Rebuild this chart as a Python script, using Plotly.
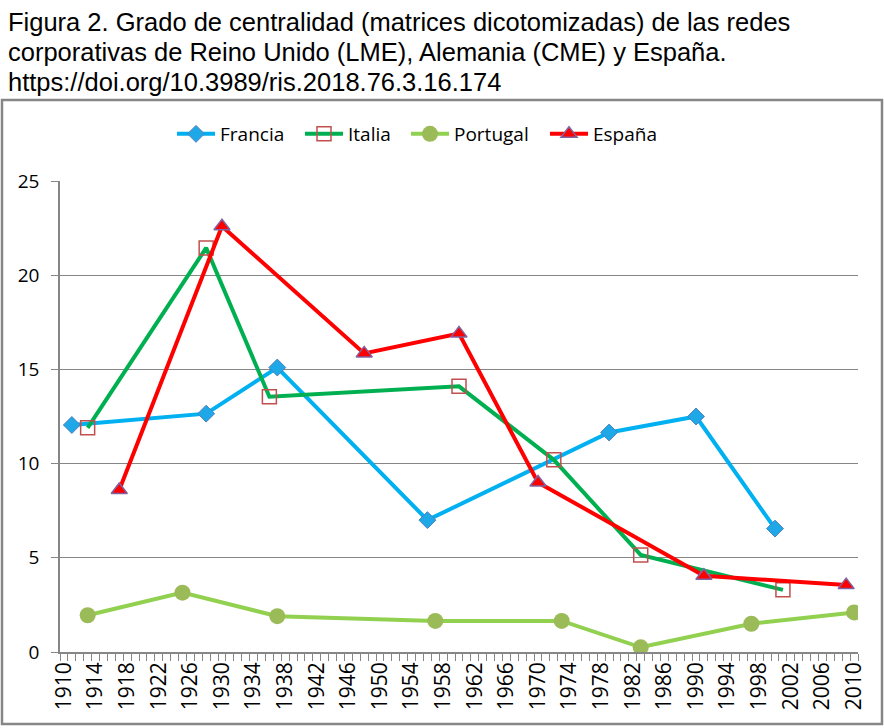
import plotly.graph_objects as go

# values
francia_years = [1911, 1928, 1937, 1956, 1979, 1990, 2000]
francia_vals = [12.05, 12.65, 15.1, 7.0, 11.65, 12.5, 6.55]

italia_years = [1913, 1928, 1936, 1960, 1972, 1983, 2001]
italia_vals = [11.9, 21.45, 13.55, 14.1, 10.2, 5.15, 3.3]

portugal_years = [1913, 1925, 1937, 1957, 1973, 1983, 1997, 2010]
portugal_vals = [1.95, 3.15, 1.9, 1.65, 1.65, 0.25, 1.5, 2.1]

espana_years = [1917, 1930, 1948, 1960, 1970, 1991, 2009]
espana_vals = [8.6, 22.6, 15.85, 16.9, 9.0, 4.05, 3.55]

x_ticks = list(range(1910, 2011, 4))
y_ticks = [0, 5, 10, 15, 20, 25]

title_lines = [
    "Figura 2. Grado de centralidad (matrices dicotomizadas) de las redes",
    "corporativas de Reino Unido (LME), Alemania (CME) y España.",
    "https://doi.org/10.3989/ris.2018.76.3.16.174",
]

GRID = "#868686"
# plot area in pixels: x 60..858, y 181..652
PW, PH = 798, 471


def px_x(p):
    return (p - 60) / PW


def px_y(p):
    return (652 - p) / PH


fig = go.Figure()

fig.add_trace(go.Scatter(
    x=francia_years, y=francia_vals, name="Francia", mode="lines+markers",
    line=dict(color="#00B0F0", width=4), legend="legend",
    marker=dict(symbol="diamond", size=13, color="#1FA8E8",
                line=dict(color="#4F81BD", width=1)),
))
fig.add_trace(go.Scatter(
    x=italia_years, y=italia_vals, name="Italia", mode="lines+markers",
    line=dict(color="#00B050", width=4), legend="legend2",
    marker=dict(symbol="square-open", size=14, color="#C0504D",
                line=dict(color="#C0504D", width=1.5)),
))
fig.add_trace(go.Scatter(
    x=portugal_years, y=portugal_vals, name="Portugal", mode="lines+markers",
    line=dict(color="#92D050", width=4), legend="legend3",
    marker=dict(symbol="circle", size=16, color="#9BBB59",
                line=dict(color="#9BBB59", width=0)),
))
fig.add_trace(go.Scatter(
    x=espana_years, y=espana_vals, name="España", mode="lines+markers",
    line=dict(color="#FF0000", width=4), legend="legend4",
    marker=dict(symbol="triangle-up", size=14, color="#FF0000",
                line=dict(color="#8064A2", width=1.5)),
))

# title as three left-aligned lines
for txt, yy in zip(title_lines, [22, 52, 82]):
    fig.add_annotation(
        text=txt, xref="paper", yref="paper", x=px_x(6), y=px_y(yy),
        xanchor="left", yanchor="middle", showarrow=False,
        font=dict(family="Liberation Sans", size=25.5, color="black"),
    )

# outer chart border
fig.add_shape(
    type="rect", xref="paper", yref="paper",
    x0=px_x(2), x1=px_x(882), y0=px_y(724), y1=px_y(100),
    line=dict(color=GRID, width=2.5), fillcolor="rgba(0,0,0,0)", layer="below",
)

leg = dict(orientation="h", xanchor="left", y=px_y(134), yanchor="middle",
           font=dict(size=19), itemwidth=38, bgcolor="rgba(0,0,0,0)")
legend_x = [172, 300, 406, 545]

fig.update_layout(
    width=884, height=728,
    margin=dict(l=60, r=26, t=181, b=76),
    paper_bgcolor="white", plot_bgcolor="white",
    font=dict(family="Open Sans", size=19, color="black"),
    showlegend=True,
    legend=dict(leg, x=px_x(legend_x[0])),
    legend2=dict(leg, x=px_x(legend_x[1])),
    legend3=dict(leg, x=px_x(legend_x[2])),
    legend4=dict(leg, x=px_x(legend_x[3])),
)

fig.update_xaxes(
    range=[1909.5, 2010.5], tickmode="array", tickvals=x_ticks,
    ticktext=[str(v) for v in x_ticks], tickangle=-90,
    ticks="", showgrid=False, zeroline=False,
    showline=True, linecolor=GRID, linewidth=1.5,
    minor=dict(ticks="outside", tick0=1909.5, dtick=1, ticklen=7,
               tickcolor=GRID, tickwidth=1, showgrid=False),
    tickfont=dict(size=21),
)
fig.update_yaxes(
    range=[0, 25], tickmode="array", tickvals=y_ticks,
    showgrid=True, gridcolor=GRID, gridwidth=1, zeroline=False,
    showline=True, linecolor=GRID, linewidth=1.5,
    ticks="outside", ticklen=7, tickcolor=GRID, ticklabelstandoff=8,
    tickfont=dict(size=19),
)

fig.write_html("out.html", config={"displayModeBar": False},
               post_script="document.body.style.margin='0px';")
